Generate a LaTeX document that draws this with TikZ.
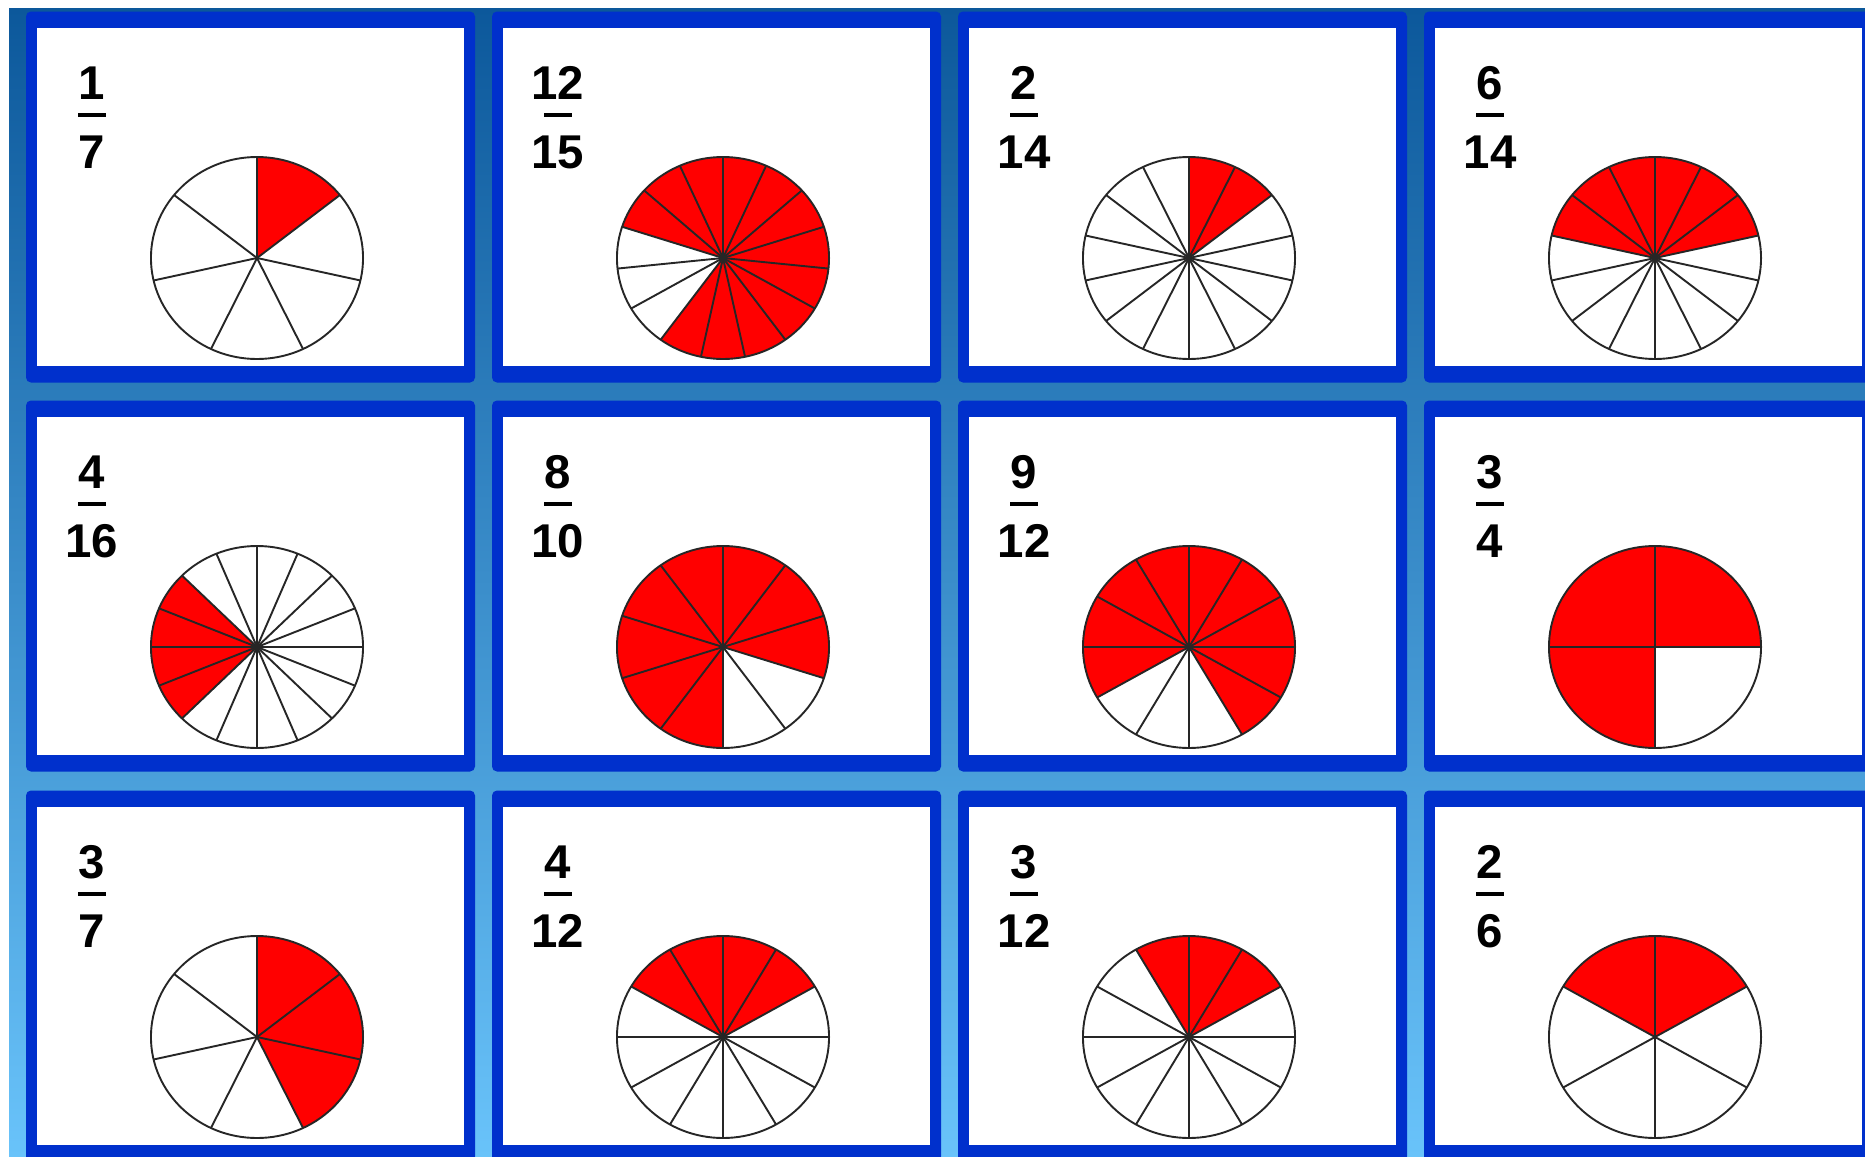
\documentclass[tikz,border=0pt]{standalone}
\usepackage{fontspec}
\setmainfont{Liberation Sans}
\usepackage{xcolor}
\usepackage{tikz}
\usetikzlibrary{calc,positioning}

\definecolor{cardblue}{RGB}{0,48,204}
\definecolor{piered}{RGB}{255,0,0}
\definecolor{bgtop}{RGB}{12,88,155}
\definecolor{bgmid}{RGB}{50,145,208}
\definecolor{bgbot}{RGB}{105,195,250}

% one card: name, left, top, numerator, denominator, slices, red slices
\newcommand{\fraccard}[7]{%
  \begin{scope}[shift={(#2,-#3)}]
    \node[cardframe] (#1frame) at (213.5,-169) {};
    \node[cardface] (#1) at (213.5,-169) {};
    \node[fracnum] (#1num) at (55,-71) {#4};
    \node[fracnum] (#1den) at (55,-140) {#5};
    \draw[fracbar] (41,-87) -- (69,-87);
    \begin{scope}[shift={(220,-230)}, xscale=1.05]
      \foreach \k in {#7}
        \fill[piered] (0,0) -- ({90-360*(\k-1)/#6}:101)
          arc ({90-360*(\k-1)/#6}:{90-360*\k/#6}:101) -- cycle;
      \foreach \k in {1,...,#6}
        \draw[spoke] (0,0) -- ({90-360*\k/#6}:101);
      \draw[spoke] (0,0) circle (101);
    \end{scope}
  \end{scope}}

\begin{document}
\begin{tikzpicture}[
  x=0.5pt, y=0.5pt,
  % Card styles
  cardframe/.style={
    rectangle,
    fill=cardblue,
    rounded corners=2.5pt,
    minimum width=224.5pt,
    minimum height=185.5pt,
    inner sep=0pt
  },
  cardface/.style={
    rectangle,
    fill=white,
    minimum width=213.5pt,
    minimum height=169pt,
    inner sep=0pt
  },
  % Fraction styles
  fracnum/.style={
    anchor=base,
    inner sep=0pt,
    font=\bfseries\fontsize{23.7}{28}\selectfont
  },
  fracbar/.style={line width=2.3pt, line cap=butt},
  % Pie style
  spoke/.style={draw=black!85, line width=0.95pt, line join=round}
]

\useasboundingbox (0,0) rectangle (1865,-1157);
\clip (0,0) rectangle (1865,-1157);

% === BACKGROUND ===
\fill[white] (0,0) rectangle (1865,-1157);
\shade[top color=bgtop, middle color=bgmid, bottom color=bgbot]
  (9,-8) rectangle (1865,-1157);

% === ROW 1 ===
\fraccard{c1}{37}{28}{1}{7}{7}{1}
\fraccard{c2}{503}{28}{12}{15}{15}{1,...,9,13,14,15}
\fraccard{c3}{969}{28}{2}{14}{14}{1,2}
\fraccard{c4}{1435}{28}{6}{14}{14}{1,2,3,12,13,14}

% === ROW 2 ===
\fraccard{c5}{37}{417}{4}{16}{16}{11,12,13,14}
\fraccard{c6}{503}{417}{8}{10}{10}{1,2,3,6,7,8,9,10}
\fraccard{c7}{969}{417}{9}{12}{12}{1,...,5,9,10,11,12}
\fraccard{c8}{1435}{417}{3}{4}{4}{1,3,4}

% === ROW 3 ===
\fraccard{c9}{37}{807}{3}{7}{7}{1,2,3}
\fraccard{c10}{503}{807}{4}{12}{12}{1,2,11,12}
\fraccard{c11}{969}{807}{3}{12}{12}{1,2,12}
\fraccard{c12}{1435}{807}{2}{6}{6}{1,6}

\end{tikzpicture}
\end{document}
